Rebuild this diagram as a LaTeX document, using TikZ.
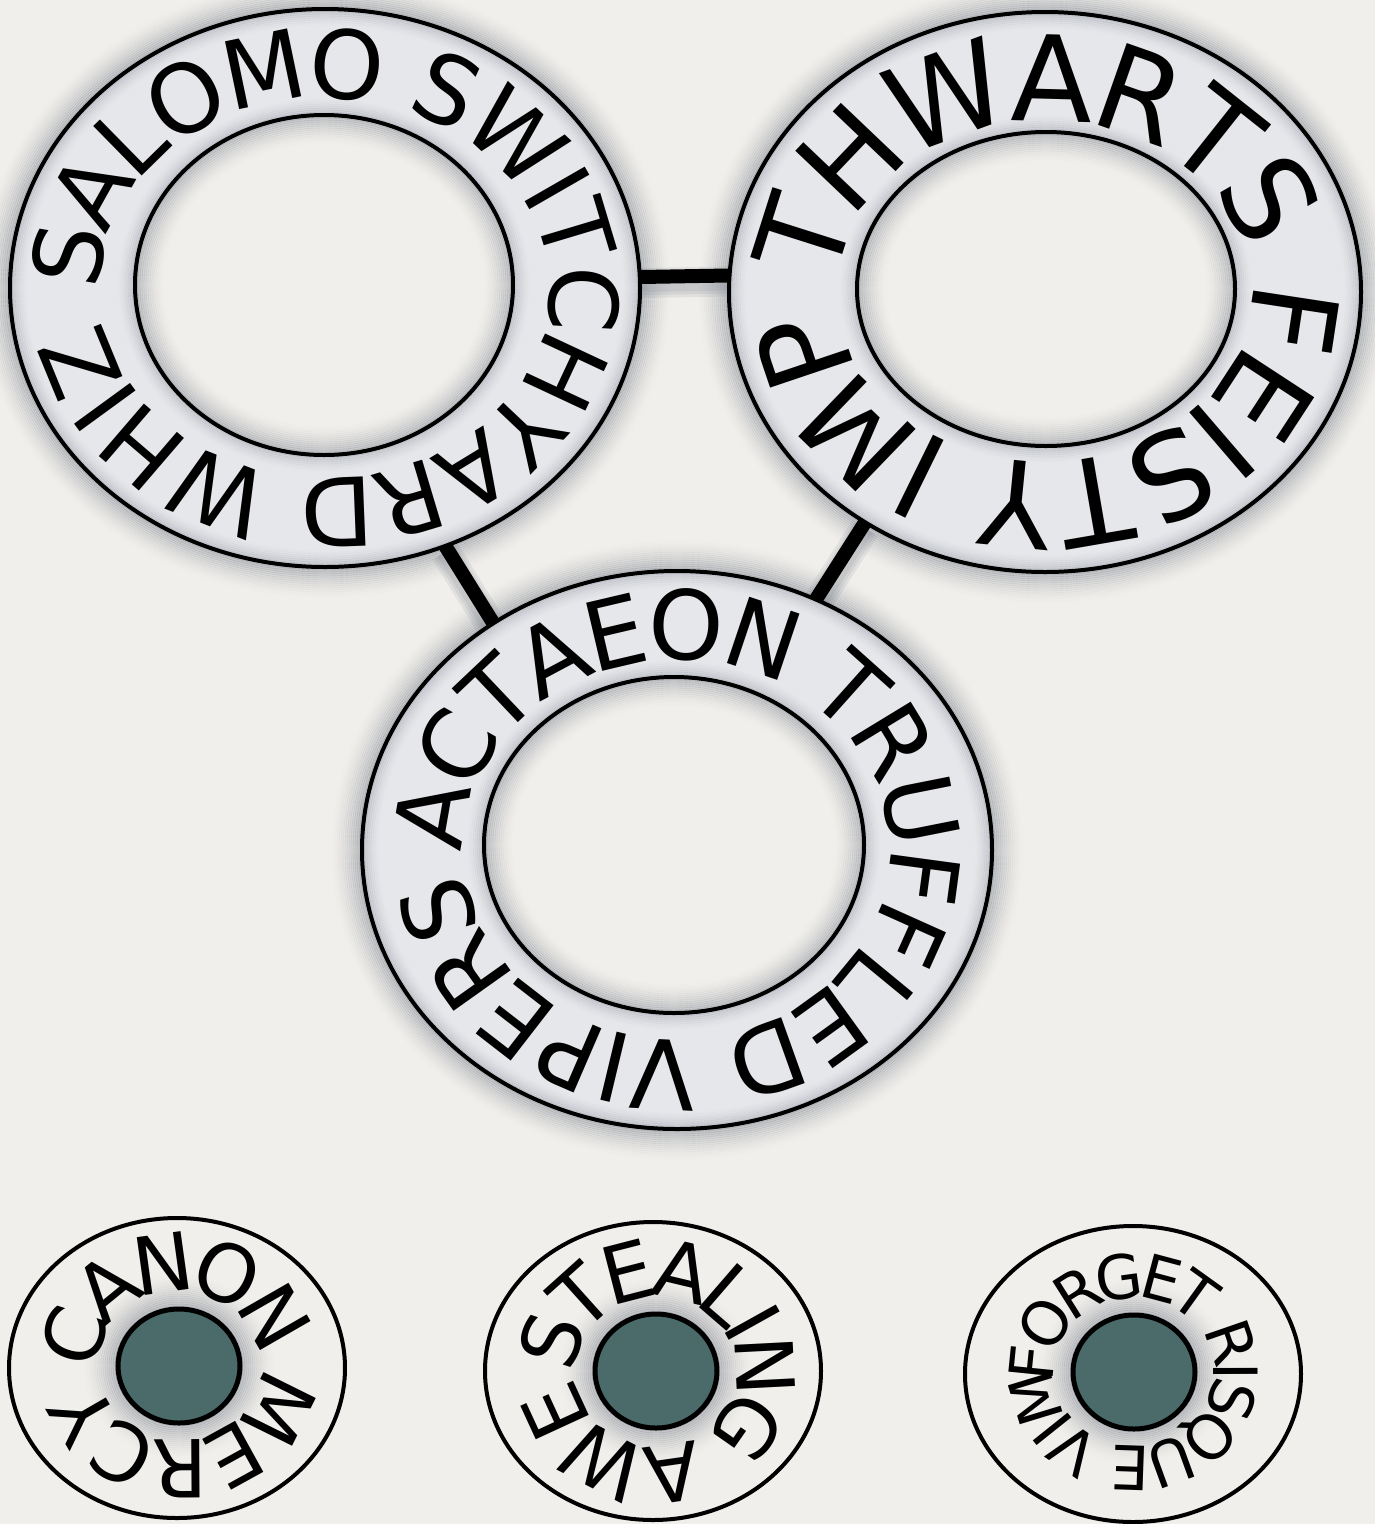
\documentclass[tikz,border=0pt]{standalone}
\usepackage{fontspec}
\setmainfont{DejaVu Sans}
\usetikzlibrary{decorations.text,shapes.geometric}
\definecolor{bg}{RGB}{241,239,235}
\definecolor{band}{RGB}{230,231,234}
\definecolor{shd}{RGB}{110,118,132}
\definecolor{dotc}{RGB}{74,107,106}

% outer drop shadow: #1 centre, #2 rx, #3 ry
\newcommand{\OuterShadow}[3]{%
  \foreach \k [evaluate=\k as \op using 0.42*(1-\k/16)^1.6,
               evaluate=\k as \ra using #2+2*\k,
               evaluate=\k as \rb using #3+2*\k] in {1,...,15}{%
    \draw[shd, line width=2.4pt, opacity=\op] (#1) ellipse [x radius=\ra pt, y radius=\rb pt];}}
% shading inside an ellipse towards its centre: #1 centre, #2 rx, #3 ry, #4 steps, #5 max opacity
\newcommand{\InShade}[5]{%
  \foreach \k [evaluate=\k as \op using #5*(1-\k/#4)^1.6,
               evaluate=\k as \ra using #2-2*\k,
               evaluate=\k as \rb using #3-2*\k] in {1,...,#4}{%
    \draw[shd, line width=2.4pt, opacity=\op] (#1) ellipse [x radius=\ra pt, y radius=\rb pt];}}
% shading outside an ellipse: #1 centre, #2 rx, #3 ry, #4 steps, #5 max opacity
\newcommand{\OutShade}[5]{%
  \foreach \k [evaluate=\k as \op using #5*(1-\k/#4)^1.6,
               evaluate=\k as \ra using #2+2*\k,
               evaluate=\k as \rb using #3+2*\k] in {1,...,#4}{%
    \draw[shd, line width=2.4pt, opacity=\op] (#1) ellipse [x radius=\ra pt, y radius=\rb pt];}}
% text round an ellipse: #1 centre, #2 rx, #3 ry, #4 start, #5 span, #6 size, #7 raise, #8 text
\newcommand{\CircText}[8]{%
  \path[decorate, decoration={text along path, text align=left, raise=#7pt,
        text color=black, text={|\fontsize{#6pt}{#6pt}\selectfont|#8}}]
    (#1) ++(#4:#2pt and #3pt) arc[start angle=#4, delta angle=-#5, x radius=#2pt, y radius=#3pt];}
% body of a big ring: #1 outer centre, #2 orx, #3 ory, #4 inner centre, #5 irx, #6 iry
\newcommand{\RingBody}[6]{%
  \fill[band, even odd rule] (#1) ellipse [x radius=#2pt, y radius=#3pt]
                             (#4) ellipse [x radius=#5pt, y radius=#6pt];
  \InShade{#1}{#2}{#3}{9}{0.30}
  \OutShade{#4}{#5}{#6}{9}{0.30}
  \InShade{#4}{#5}{#6}{15}{0.40}
  \draw[ringline] (#1) ellipse [x radius=#2pt, y radius=#3pt];
  \draw[ringline] (#4) ellipse [x radius=#5pt, y radius=#6pt];}

\begin{document}
\begin{tikzpicture}[x=1pt,y=1pt,
  ringline/.style={draw=black, line width=4pt},
  link/.style={draw=black, line width=14pt},
  linkshadow/.style={draw=shd, opacity=0.12, transform canvas={yshift=-6pt}},
  ringshape/.style={ellipse, inner sep=0pt, outer sep=0pt, draw=none}]
\fill[bg] (0,0) rectangle (1375,-1524);
\useasboundingbox (0,0) rectangle (1375,-1524);

% ring centres
\coordinate (c1) at (325,-288);  \coordinate (i1) at (324,-285);
\coordinate (c2) at (1045,-292); \coordinate (i2) at (1046,-289);
\coordinate (c3) at (677,-850);  \coordinate (i3) at (674,-845);
\coordinate (c4) at (177,-1368); \coordinate (d4) at (179,-1366);
\coordinate (c5) at (653,-1371); \coordinate (d5) at (656,-1371);
\coordinate (c6) at (1133,-1374); \coordinate (d6) at (1134,-1372);

% named ring nodes (for the connectors)
\node[ringshape, minimum width=630pt, minimum height=558pt] (r1) at (c1) {};
\node[ringshape, minimum width=632pt, minimum height=560pt] (r2) at (c2) {};
\node[ringshape, minimum width=630pt, minimum height=558pt] (r3) at (c3) {};

% drop shadows of the big rings
\OuterShadow{c1}{315}{279}
\OuterShadow{c2}{316}{280}
\OuterShadow{c3}{315}{279}

% connectors
\foreach \w in {18,24,30}{
  \draw[linkshadow, line width=\w pt] (r1.2.4) -- (r2.177);
  \draw[linkshadow, line width=\w pt] (r1.-65.8) -- (r3.129.7);
  \draw[linkshadow, line width=\w pt] (r2.232) -- (r3.61.4);
}
\draw[link] (r1.2.4) -- (r2.177);
\draw[link] (r1.-65.8) -- (r3.129.7);
\draw[link] (r2.232) -- (r3.61.4);

% big rings
\RingBody{c1}{315}{279}{i1}{189}{170}
\RingBody{c2}{316}{280}{i2}{189}{157}
\RingBody{c3}{315}{279}{i3}{190}{168}

\CircText{c1}{241}{206}{180}{380}{95}{-16}{SALOMO SWITCHYARD WHIZ}
\CircText{c2}{226}{189}{176}{380}{119}{-19}{THWARTS FEISTY IMP}
\CircText{c3}{232}{209}{180}{380}{96}{-19}{ACTAEON TRUFFLED VIPERS}

% small rings
\foreach \d in {d4,d5,d6}{
  \OutShade{\d}{61}{57}{18}{0.42}
  \draw[fill=dotc, draw=black, line width=5pt] (\d) ellipse [x radius=61pt, y radius=57pt];
}
\draw[ringline] (c4) ellipse [x radius=168pt, y radius=150pt];
\draw[ringline] (c5) ellipse [x radius=168pt, y radius=149pt];
\draw[ringline] (c6) ellipse [x radius=168pt, y radius=148pt];

\CircText{d4}{102}{96}{180}{380}{80}{-22}{CANON MERCY}
\CircText{d5}{102}{96}{178}{380}{80}{-22}{STEALING AWE}
\CircText{d6}{102}{96}{185}{400}{61}{-22}{FORGET RISQUE VIM}
\end{tikzpicture}
\end{document}
